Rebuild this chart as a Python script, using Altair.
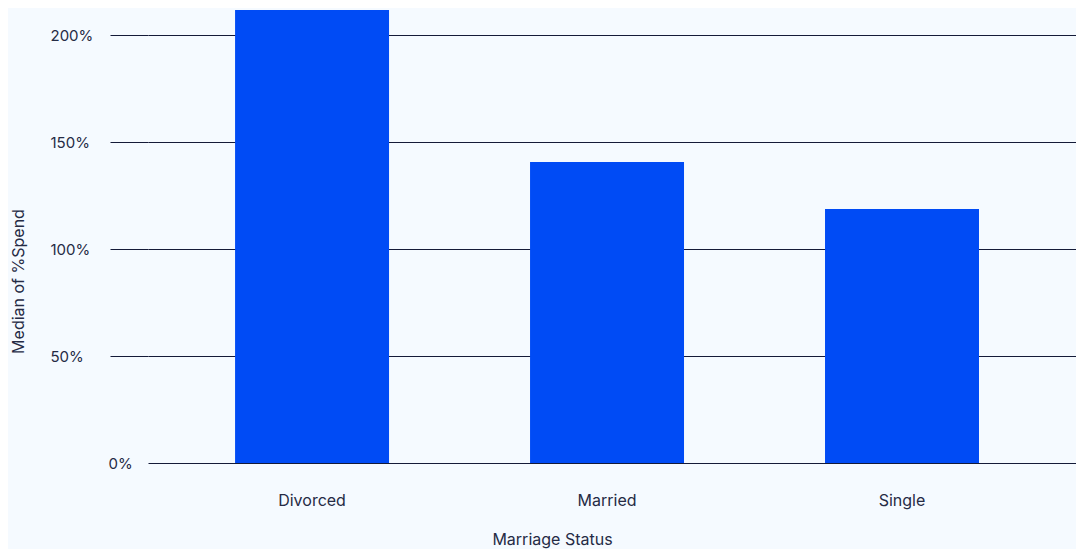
import altair as alt
import pandas as pd

categories = ["Divorced", "Married", "Single"]
median_spend = [2.118, 1.407, 1.187]
y_ticks = [0, 0.5, 1.0, 1.5, 2.0]

df = pd.DataFrame({"Marriage Status": categories, "Median of %Spend": median_spend})

FONT = "Inter"
TEXT = "#252b45"
GRID = "#141a38"
BG = "#f5faff"

chart = alt.Chart(df).mark_bar(color="#004bf5").encode(
    x=alt.X(
        "Marriage Status:N",
        sort=categories,
        scale=alt.Scale(paddingInner=0.478, paddingOuter=0.312, align=0.473),
        axis=alt.Axis(
            title="Marriage Status",
            labelAngle=0,
            domain=False,
            ticks=False,
            grid=False,
            labelBaseline="middle",
            labelPadding=37,
            labelFont=FONT,
            labelFontSize=16,
            labelColor=TEXT,
            titleFont=FONT,
            titleFontSize=16,
            titleFontWeight="normal",
            titleColor=TEXT,
            titleX=404,
            titleY=81,
            titleBaseline="alphabetic",
        ),
    ),
    y=alt.Y(
        "Median of %Spend:Q",
        scale=alt.Scale(domain=[0, 2.118], nice=False),
        axis=alt.Axis(
            title="Median of %Spend",
            values=y_ticks,
            format=".0%",
            domain=False,
            grid=True,
            gridColor=GRID,
            gridWidth=1,
            ticks=True,
            tickColor=GRID,
            tickWidth=1,
            tickSize={"condition": {"test": "datum.value == 0", "value": 0}, "value": 38},
            labelAlign="left",
            labelBaseline="middle",
            labelPadding={"condition": {"test": "datum.value == 0", "value": 40}, "value": 60},
            labelFont=FONT,
            labelFontSize=15,
            labelColor=TEXT,
            titleFont=FONT,
            titleFontSize=16,
            titleFontWeight="normal",
            titleColor=TEXT,
            titleX=-130,
            titleY=271,
            titleAngle=-90,
            titleBaseline="middle",
            titleAlign="center",
        ),
    ),
).properties(
    width=928,
    height=453,
    background=BG,
    padding={"left": 140, "top": 2, "right": 0, "bottom": 86},
    autosize=alt.AutoSizeParams(type="none"),
).configure_view(stroke=None)

chart.save("out.html", embed_options={"renderer": "svg", "actions": False})
